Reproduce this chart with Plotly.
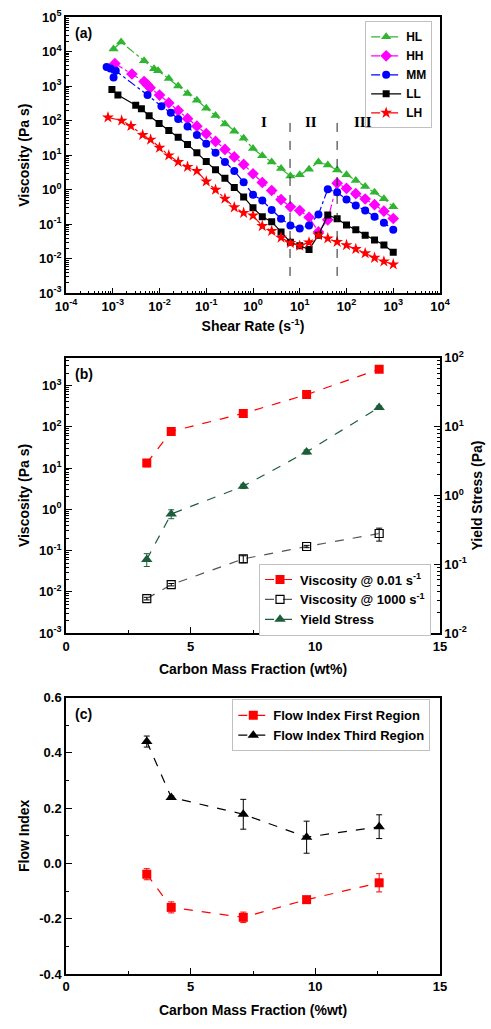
import math
import plotly.graph_objects as go

# ---------------- Panel (a): viscosity vs shear rate ----------------
rate_grid = [0.0158, 0.0251, 0.0398, 0.0631, 0.1, 0.158, 0.251, 0.398, 0.631, 1.0,
             1.58, 2.51, 3.98, 6.31, 10.0, 15.8, 25.1, 39.8, 63.1, 100.0,
             158.0, 251.0, 398.0, 631.0, 1000.0]

hl_x = [0.00104, 0.00151, 0.00468, 0.00767, 0.00933] + rate_grid
hl_y = [11800, 18800, 5400, 3160, 2800, 1650, 1000, 610, 390, 230, 140, 80, 49, 31, 15.5,
        9.6, 6.4, 4.1, 2.5, 2.7, 3.9, 6.4, 5.2, 3.7, 2.7, 1.86, 1.24, 0.85, 0.55, 0.32]

hh_x = [0.00111, 0.00257, 0.00468, 0.0055, 0.0063, 0.01] + rate_grid
hh_y = [4500, 2240, 1350, 1100, 890, 550, 325, 195, 114, 69, 42, 25, 14.7, 8.9, 5.4, 2.9,
        1.62, 0.95, 0.52, 0.32, 0.25, 0.16, 0.06, 0.135, 1.55, 1.09, 0.77, 0.54, 0.37, 0.24, 0.147]

mm_x = [0.00074, 0.00089, 0.00104, 0.00116, 0.00555, 0.011, 0.0174] + rate_grid[1:]
mm_y = [3550, 3240, 1770, 2760, 550, 262, 170, 112, 68, 38.4, 21.5, 11.8, 6.4, 3.5, 1.65, 0.72,
        0.485, 0.26, 0.145, 0.093, 0.075, 0.093, 0.193, 1.04, 0.84, 0.52, 0.35, 0.25, 0.165, 0.111, 0.069]

ll_x = [0.00096, 0.00129, 0.0031, 0.0041, 0.006, 0.0098] + rate_grid
ll_y = [800, 550, 280, 220, 139, 83, 51.5, 33, 20.5, 11.7, 6.6, 3.8, 2.14, 1.16, 0.62, 0.30,
        0.165, 0.119, 0.060, 0.030, 0.024, 0.0185, 0.0485, 0.185, 0.145, 0.095, 0.069, 0.0485,
        0.035, 0.025, 0.0155]

lh_x = [0.00079, 0.00155, 0.00245, 0.00437, 0.00646, 0.01] + rate_grid
lh_y = [124, 100, 70, 38.5, 28.3, 16.4, 9.9, 6.4, 4.6, 3.5, 1.73, 1.0, 0.55, 0.31, 0.214, 0.18,
        0.089, 0.064, 0.041, 0.0287, 0.024, 0.0298, 0.0485, 0.039, 0.031, 0.025, 0.0193, 0.0145,
        0.0107, 0.0084, 0.0069]

region_bounds = [6.2, 63.0]
region_span = [0.0032, 155.0]
region_labels = ["I", "II", "III"]
region_label_x = [1.7, 17.0, 224.0]
region_label_y = 90.0

# ---------------- Panel (b) ----------------
carbon = [3.24, 4.22, 7.11, 9.65, 12.56]
visc_001 = [13.2, 77, 210, 600, 2470]
visc_001_err = [2.5, 8, 25, 40, 150]
visc_1000 = [0.0069, 0.015, 0.063, 0.126, 0.26]
visc_1000_err = [0.0005, 0.001, 0.012, 0.008, 0.09]
yield_stress = [0.118, 0.54, 1.36, 4.3, 19.0]
yield_err = [0.025, 0.08, 0.1, 0.3, 1.0]

# ---------------- Panel (c) ----------------
flow_first = [-0.039, -0.159, -0.195, -0.131, -0.070]
flow_first_err = [0.02, 0.02, 0.019, 0.005, 0.033]
flow_third = [0.441, 0.239, 0.178, 0.095, 0.133]
flow_third_err = [0.02, 0.005, 0.054, 0.058, 0.043]

FONT = "Liberation Sans"
SERIF = "Liberation Serif"

fig = go.Figure()

series_a = [
    ("HL", hl_x, hl_y, "#2fb52f", "triangle-up", "dashdot", 9),
    ("HH", hh_x, hh_y, "#ff00ff", "diamond", "dashdot", 9),
    ("MM", mm_x, mm_y, "#0000ff", "circle", "dashdot", 8),
    ("LL", ll_x, ll_y, "#000000", "square", "solid", 7),
    ("LH", lh_x, lh_y, "#ff0000", "star", "dashdot", 9),
]
for name, xs, ys, col, sym, dash, sz in series_a:
    fig.add_trace(go.Scatter(x=xs, y=ys, name=name, mode="lines+markers",
                             line=dict(color=col, width=1.2, dash=dash),
                             marker=dict(symbol=sym, size=sz, color=col, line=dict(width=0)),
                             xaxis="x", yaxis="y", legend="legend"))

for xb in region_bounds:
    fig.add_trace(go.Scatter(x=[xb, xb], y=region_span, mode="lines",
                             line=dict(color="#222222", width=1, dash="dash"),
                             showlegend=False, hoverinfo="skip", xaxis="x", yaxis="y"))

annotations = []
for lab, lx in zip(region_labels, region_label_x):
    annotations.append(dict(text="<b>%s</b>" % lab, x=math.log10(lx), y=math.log10(region_label_y),
                            xref="x", yref="y", showarrow=False,
                            font=dict(family=SERIF, size=15, color="black")))

# Panel (b)
fig.add_trace(go.Scatter(x=carbon, y=visc_001, name="Viscosity @ 0.01 s<sup>-1</sup>",
                         mode="lines+markers", line=dict(color="#ff0000", width=1.2, dash="dash"),
                         marker=dict(symbol="square", size=9, color="#ff0000"),
                         error_y=dict(type="data", array=visc_001_err, color="#ff6666", thickness=1, width=3),
                         xaxis="x2", yaxis="y2", legend="legend2"))
fig.add_trace(go.Scatter(x=carbon, y=visc_1000, name="Viscosity @ 1000 s<sup>-1</sup>",
                         mode="lines+markers", line=dict(color="#555555", width=1.2, dash="dash"),
                         marker=dict(symbol="square-open", size=8, color="#000000", line=dict(width=1.2)),
                         error_y=dict(type="data", array=visc_1000_err, color="#000000", thickness=1, width=3),
                         xaxis="x2", yaxis="y2", legend="legend2"))
fig.add_trace(go.Scatter(x=carbon, y=yield_stress, name="Yield Stress",
                         mode="lines+markers", line=dict(color="#1d5e3a", width=1.2, dash="dash"),
                         marker=dict(symbol="triangle-up", size=10, color="#1d5e3a"),
                         error_y=dict(type="data", array=yield_err, color="#1d5e3a", thickness=1, width=3),
                         xaxis="x2", yaxis="y4", legend="legend2"))

# Panel (c)
fig.add_trace(go.Scatter(x=carbon, y=flow_first, name="Flow Index First Region",
                         mode="lines+markers", line=dict(color="#ff0000", width=1.2, dash="dash"),
                         marker=dict(symbol="square", size=9, color="#ff0000"),
                         error_y=dict(type="data", array=flow_first_err, color="#ff0000", thickness=1, width=3),
                         xaxis="x3", yaxis="y3", legend="legend3"))
fig.add_trace(go.Scatter(x=carbon, y=flow_third, name="Flow Index Third Region",
                         mode="lines+markers", line=dict(color="#000000", width=1.2, dash="dash"),
                         marker=dict(symbol="triangle-up", size=10, color="#000000"),
                         error_y=dict(type="data", array=flow_third_err, color="#000000", thickness=1, width=3),
                         xaxis="x3", yaxis="y3", legend="legend3"))


def pow_labels(lo, hi):
    vals = [10.0 ** k for k in range(lo, hi + 1)]
    txt = ["10<sup>%s</sup>" % (str(k) if k >= 0 else "-" + str(-k)) for k in range(lo, hi + 1)]
    return vals, txt


def minor_log(lo, hi):
    return [m * 10.0 ** k for k in range(lo, hi) for m in range(2, 10)]


tickfont = dict(family=FONT, size=13, color="black", weight="bold")
titlefont = dict(family=FONT, size=14, color="black", weight="bold")
common = dict(showline=True, linecolor="black", linewidth=1.5, mirror=True, ticks="inside",
              ticklen=6, tickwidth=1.2, tickcolor="black", showgrid=False, zeroline=False,
              tickfont=tickfont)

ax_a_vals, ax_a_txt = pow_labels(-4, 4)
ay_a_vals, ay_a_txt = pow_labels(-3, 5)
ay_b_vals, ay_b_txt = pow_labels(-3, 3)
ay_b2_vals, ay_b2_txt = pow_labels(-2, 2)

dom_a = [0.7112, 1.0]
dom_b = [0.3561, 0.6439]
dom_c = [0.0, 0.2888]

legend_common = dict(bgcolor="white", bordercolor="#c0c0c0", borderwidth=1,
                     tracegroupgap=0, itemwidth=30)

fig.update_layout(
    width=491, height=1029,
    margin=dict(l=66, r=44, t=8, b=55),
    plot_bgcolor="white", paper_bgcolor="white",
    font=dict(family=FONT, size=13, color="black"),
    xaxis=dict(type="log", range=[-4, 4], domain=[0, 1], anchor="y",
               tickmode="array", tickvals=ax_a_vals, ticktext=ax_a_txt,
               minor=dict(tickmode="array", tickvals=minor_log(-4, 4), ticks="inside", ticklen=3, tickcolor="black"),
               title=dict(text="Shear Rate (s<sup>-1</sup>)", font=titlefont, standoff=8), **common),
    yaxis=dict(type="log", range=[-3, 5], domain=dom_a, anchor="x",
               tickmode="array", tickvals=ay_a_vals, ticktext=ay_a_txt,
               minor=dict(tickmode="array", tickvals=minor_log(-3, 5), ticks="inside", ticklen=3, tickcolor="black"),
               title=dict(text="Viscosity (Pa s)", font=titlefont, standoff=6), **common),
    xaxis2=dict(range=[0, 15], domain=[0, 1], anchor="y2", tickmode="array", tickvals=[0, 5, 10, 15],
                minor=dict(tickmode="array", tickvals=[2.5, 7.5, 12.5], ticks="inside", ticklen=3, tickcolor="black"),
                title=dict(text="Carbon Mass Fraction (wt%)", font=titlefont, standoff=12), **common),
    yaxis2=dict(type="log", range=[-3, 3.67], domain=dom_b, anchor="x2",
                tickmode="array", tickvals=ay_b_vals, ticktext=ay_b_txt,
                minor=dict(tickmode="array", tickvals=minor_log(-3, 4), ticks="inside", ticklen=3, tickcolor="black"),
                title=dict(text="Viscosity (Pa s)", font=titlefont, standoff=6), **common),
    yaxis4=dict(type="log", range=[-2, 2], overlaying="y2", side="right", anchor="x2",
                tickmode="array", tickvals=ay_b2_vals, ticktext=ay_b2_txt,
                minor=dict(tickmode="array", tickvals=minor_log(-2, 2), ticks="inside", ticklen=3, tickcolor="black"),
                title=dict(text="Yield Stress (Pa)", font=titlefont, standoff=6),
                showline=True, linecolor="black", linewidth=1.5, ticks="inside", ticklen=6, tickwidth=1.2,
                tickcolor="black", showgrid=False, zeroline=False, tickfont=tickfont),
    xaxis3=dict(range=[0, 15], domain=[0, 1], anchor="y3", tickmode="array", tickvals=[0, 5, 10, 15],
                minor=dict(tickmode="array", tickvals=[2.5, 7.5, 12.5], ticks="inside", ticklen=3, tickcolor="black"),
                title=dict(text="Carbon Mass Fraction (%wt)", font=titlefont, standoff=12), **common),
    yaxis3=dict(range=[-0.4, 0.6], domain=dom_c, anchor="x3", tickmode="array",
                tickvals=[-0.4, -0.2, 0.0, 0.2, 0.4, 0.6], ticktext=["-0.4", "-0.2", "0.0", "0.2", "0.4", "0.6"],
                minor=dict(tickmode="array", tickvals=[-0.3, -0.1, 0.1, 0.3, 0.5], ticks="inside", ticklen=3, tickcolor="black"),
                title=dict(text="Flow Index", font=titlefont, standoff=6), **common),
    legend=dict(x=0.979, y=0.9955, xanchor="right", yanchor="top",
                font=dict(family=FONT, size=12, weight="bold"), **legend_common),
    legend2=dict(x=0.976, y=0.3913, xanchor="right", yanchor="middle",
                 font=dict(family=FONT, size=13, weight="bold"), **legend_common),
    legend3=dict(x=0.974, y=0.2598, xanchor="right", yanchor="middle",
                 font=dict(family=FONT, size=13, weight="bold"), **legend_common),
)

for label, yd in [("(a)", dom_a), ("(b)", dom_b), ("(c)", dom_c)]:
    annotations.append(dict(text="<b>%s</b>" % label, x=0.018, y=yd[1] - 0.058 * (yd[1] - yd[0]),
                            xref="paper", yref="paper", xanchor="left", yanchor="middle", showarrow=False,
                            font=dict(family=FONT, size=14, color="black")))
fig.update_layout(annotations=annotations)

fig.write_html("out.html")
